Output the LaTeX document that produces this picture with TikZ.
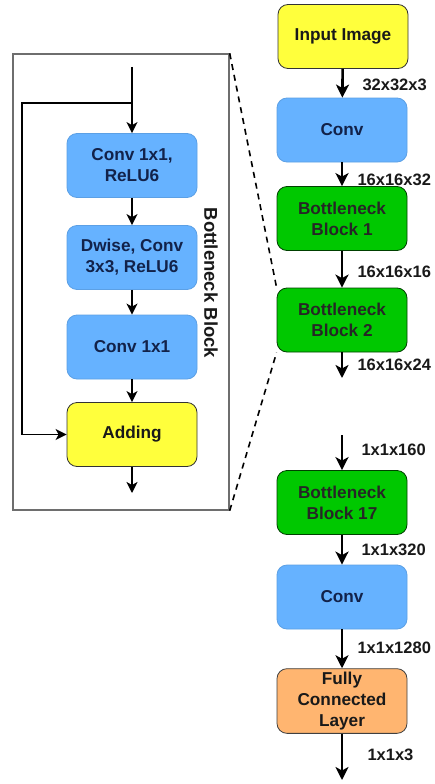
\documentclass[tikz,border=0pt]{standalone}
\usepackage{fontspec}
\setmainfont{Liberation Sans}
\usetikzlibrary{arrows.meta}
\definecolor{inyellow}{HTML}{FFFF3C}
\definecolor{convblue}{HTML}{66B2FF}
\definecolor{bnkgreen}{HTML}{00C800}
\definecolor{fcorange}{HTML}{FFB570}
\definecolor{navytext}{HTML}{12224A}
\definecolor{framegray}{HTML}{6E6E6E}
\tikzset{
  blk/.style={rounded corners=10pt, minimum width=130pt, minimum height=64pt,
    align=center, font=\fontsize{17.2}{21}\selectfont\bfseries, text=black!90, line width=0.8pt},
  yel/.style={blk, fill=inyellow, draw=black!80},
  blu/.style={blk, fill=convblue, draw=convblue!90!black, text=navytext},
  grn/.style={blk, fill=bnkgreen, draw=green!25!black, text=black!85},
  org/.style={blk, fill=fcorange, draw=black!75},
  bigarrow/.style={line width=2.6pt, -{Stealth[length=13pt,width=13pt,inset=3.5pt]}},
  smallarrow/.style={line width=1.8pt, -{Stealth[length=11pt,width=11pt,inset=3pt]}},
  dimlbl/.style={anchor=west, font=\fontsize{16.5}{19}\selectfont\bfseries, text=black!90},
  zoomline/.style={dashed, line width=1.6pt, dash pattern=on 6pt off 5pt}
}
\begin{document}
\begin{tikzpicture}[x=1pt,y=-1pt]
\useasboundingbox (0,0) rectangle (435,784);
\fill[white] (0,0) rectangle (435,784);

% main network column
\node[yel] (inp) at (343,36.5) {Input Image};
\node[blu] (conv1) at (342,130) {Conv};
\node[grn] (bn1) at (342,218.5) {Bottleneck\\Block 1};
\node[grn] (bn2) at (342,320) {Bottleneck\\Block 2};
\coordinate (gapA) at (342,378);
\coordinate (gapB) at (342,435);
\node[grn] (bn17) at (342,502.5) {Bottleneck\\Block 17};
\node[blu] (conv2) at (342,597) {Conv};
\node[org] (fc) at (342,701) {Fully\\Connected\\Layer};
\coordinate (out) at (342,780);

\draw[bigarrow] (inp) -- (conv1);
\draw[bigarrow] (conv1) -- (bn1);
\draw[bigarrow] (bn1) -- (bn2);
\draw[bigarrow] (bn2) -- (gapA);
\draw[bigarrow] (gapB) -- (bn17);
\draw[bigarrow] (bn17) -- (conv2);
\draw[bigarrow] (conv2) -- (fc);
\draw[bigarrow] (fc) -- (out);

% tensor sizes
\node[dimlbl] (d1) at (359,85) {32x32x3};
\node[dimlbl] (d2) at (354,180) {16x16x32};
\node[dimlbl] (d3) at (354,272) {16x16x16};
\node[dimlbl] (d4) at (354,365) {16x16x24};
\node[dimlbl] (d5) at (358,450) {1x1x160};
\node[dimlbl] (d6) at (358,550) {1x1x320};
\node[dimlbl] (d7) at (354,648) {1x1x1280};
\node[dimlbl] (d8) at (364,755) {1x1x3};

% bottleneck block detail
\node[draw=framegray, line width=1.4pt, minimum width=216pt, minimum height=456pt, inner sep=0pt]
  (frame) at (121,282) {};
\node[blu] (c11) at (132,165.5) {Conv 1x1,\\ReLU6};
\node[blu] (dw) at (132,257.5) {Dwise, Conv\\3x3, ReLU6};
\node[blu] (c12) at (132,347) {Conv 1x1};
\node[yel] (add) at (132,434.5) {Adding};
\coordinate (bin) at (132,67);
\coordinate (split) at (132,103);
\coordinate (skipL) at (22,103);
\coordinate (bout) at (132,493);

\draw[smallarrow] (bin) -- (c11);
\draw[line width=1.8pt] (split) -- (skipL) -- (skipL |- add.west);
\draw[smallarrow] (skipL |- add.west) -- (add.west);
\draw[smallarrow] (c11) -- (dw);
\draw[smallarrow] (dw) -- (c12);
\draw[smallarrow] (c12) -- (add);
\draw[smallarrow] (add) -- (bout);

\node[rotate=-90, font=\fontsize{18.5}{20}\selectfont\bfseries, text=black!90]
  (title) at (211,283) {Bottleneck Block};

% zoom lines to Bottleneck Block 2
\draw[zoomline] (frame.north east) -- (bn2.north west);
\draw[zoomline] (frame.south east) -- (bn2.south west);
\end{tikzpicture}
\end{document}
